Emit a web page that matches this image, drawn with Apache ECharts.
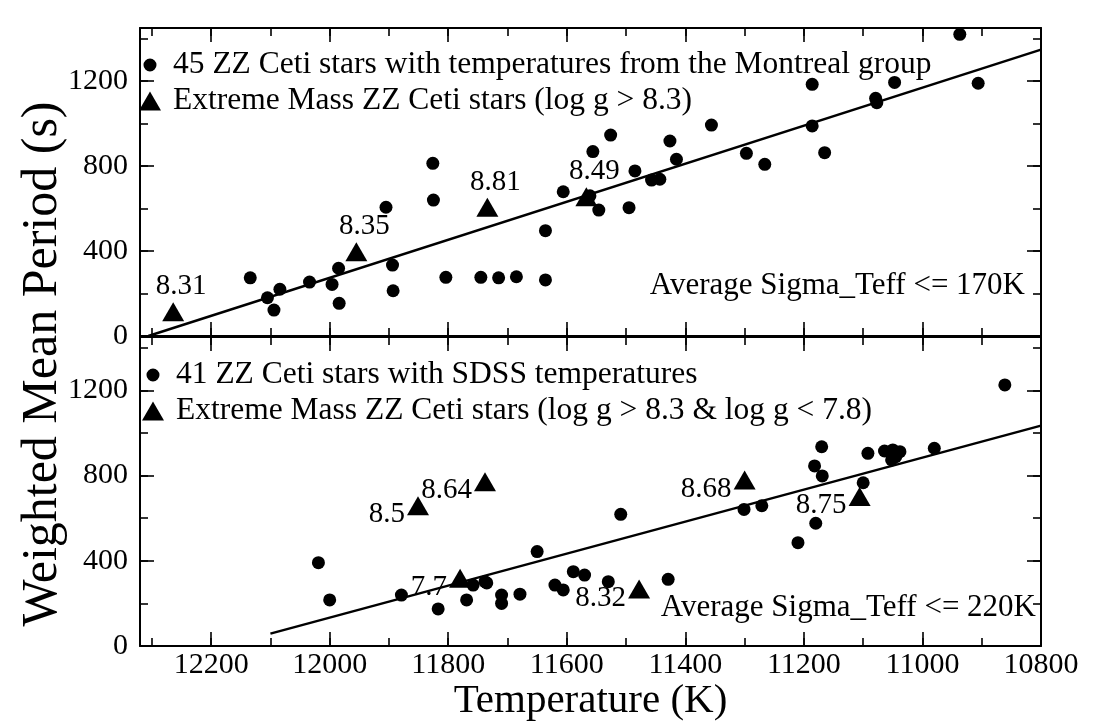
<!DOCTYPE html>
<html><head><meta charset="utf-8">
<script src="https://cdn.jsdelivr.net/npm/echarts@6.0.0/dist/echarts.min.js"></script>
<style>html,body{margin:0;padding:0;background:#fff}#c{width:1099px;height:728px}</style>
</head><body><div id="c"></div>
<script>
// ---------- data ----------
const xTickLabels = [12200, 12000, 11800, 11600, 11400, 11200, 11000, 10800];
const yTickLabels = [0, 400, 800, 1200];

// top panel: Montreal group temperatures
const topCircleT = [12134,12105,12084,12094,12034,11996,11985,11984,11905,11894,11893,11826,11825,11804,11745,11715,11685,11636,11636,11606,11556,11546,11561,11526,11495,11485,11457,11443,11426,11415,11356,11297,11266,11186,11186,11165,11079,11077,11047,10937,10906];
const topCircleP = [274,180,220,122,254,243,319,154,606,334,213,813,640,276,276,274,279,496,264,679,868,593,660,946,604,777,734,738,918,832,993,860,808,1185,989,863,1119,1098,1194,1420,1190];
const topTriT = [12264, 11955, 11734, 11567];
const topTriP = [114, 397, 606, 656];
const topTriLabel = ['8.31', '8.35', '8.81', '8.49'];
const topFitT = [12306, 10800];
const topFitP = [0, 1348];

// bottom panel: SDSS temperatures
const botCircleT = [12019,12000,11879,11817,11769,11758,11738,11735,11710,11710,11679,11650,11620,11606,11589,11570,11530,11509,11429,11301,11271,11210,11180,11182,11170,11169,11100,11092,11064,11050,11038,11052,11045,10980,10861];
const botCircleP = [391,216,239,174,216,286,302,296,239,200,243,443,286,263,349,333,302,618,313,641,658,485,576,845,935,798,766,904,915,920,912,873,888,928,1225];
const botTriT = [11851, 11738, 11780, 11478, 11300, 11106];
const botTriP = [658, 771, 318, 267, 779, 701];
const botTriLabel = ['8.5', '8.64', '7.7', '8.32', '8.68', '8.75'];
const botFitT = [12100, 10800];
const botFitP = [58, 1034];

const topCircleName = '45 ZZ Ceti stars with temperatures from the Montreal group';
const topTriName = 'Extreme Mass ZZ Ceti stars (log g > 8.3)';
const botCircleName = '41 ZZ Ceti stars with SDSS temperatures';
const botTriName = 'Extreme Mass ZZ Ceti stars (log g > 8.3 & log g < 7.8)';

// ---------- chart ----------
const FONT = '"Liberation Serif", "DejaVu Serif", serif';
const X_MIN = 10800, X_MAX = 12320, Y_MIN = 0, Y_MAX = 1450;
const zip = (a, b) => a.map((v, i) => [v, b[i]]);
const zip3 = (a, b, c) => a.map((v, i) => ({ value: [v, b[i]], label: { formatter: c[i] } }));

function xAx(grid, pos, major, labels) {
  return {
    type: 'value', gridIndex: grid, position: pos, inverse: true,
    min: X_MIN, max: X_MAX, interval: major ? 200 : 100,
    axisLine: { show: major, onZero: false, lineStyle: { color: '#000', width: 2 } },
    axisTick: { show: true, inside: true, length: major ? 14 : 8, lineStyle: { color: '#000', width: 1.6 } },
    axisLabel: { show: labels, margin: 4, color: '#000', fontFamily: FONT, fontSize: 30,
      formatter: v => (xTickLabels.indexOf(v) >= 0 ? String(v) : '') },
    splitLine: { show: false },
    name: (labels && major) ? 'Temperature (K)' : '',
    nameLocation: 'middle', nameGap: 55,
    nameTextStyle: { fontFamily: FONT, fontSize: 41, color: '#000', verticalAlign: 'middle' }
  };
}
function yAx(grid, pos, major, labels) {
  return {
    type: 'value', gridIndex: grid, position: pos,
    min: Y_MIN, max: Y_MAX, interval: major ? 400 : 200,
    axisLine: { show: major, onZero: false, lineStyle: { color: '#000', width: 2 } },
    axisTick: { show: true, inside: true, length: major ? 14 : 8, lineStyle: { color: '#000', width: 1.6 } },
    axisLabel: { show: labels, margin: 12, color: '#000', fontFamily: FONT, fontSize: 30,
      formatter: v => (yTickLabels.indexOf(v) >= 0 ? String(v) : '') },
    splitLine: { show: false }
  };
}

const xAxes = [], yAxes = [];
[0, 1].forEach(g => {
  xAxes.push(xAx(g, 'bottom', true, g === 1), xAx(g, 'top', true, false), xAx(g, 'bottom', false, false), xAx(g, 'top', false, false));
  yAxes.push(yAx(g, 'left', true, true), yAx(g, 'right', true, false), yAx(g, 'left', false, false), yAx(g, 'right', false, false));
});

const CIRCLE_ICON = 'path://M0,0M19,19M9.5,3A6.5,6.5,0,1,1,9.49,3Z';
const TRI_ICON = 'path://M11,0L22,19L0,19Z';

const markStyle = { color: '#000', opacity: 1 };
const triLabelTop = { show: true, position: 'top', distance: 1, offset: [8, 0], color: '#000', opacity: 1, fontFamily: FONT, fontSize: 29 };
const triLabelLeft = { show: true, position: 'left', distance: 2, offset: [0, 9], color: '#000', opacity: 1, fontFamily: FONT, fontSize: 29 };
const legendText = { fontFamily: FONT, fontSize: 31.5, color: '#000' };

const option = {
  backgroundColor: '#fff',
  animation: false,
  grid: [
    { left: 140, right: 58, top: 28, height: 308 },
    { left: 140, right: 58, top: 337, height: 309 }
  ],
  xAxis: xAxes,
  yAxis: yAxes,
  legend: [
    { data: [{ name: topCircleName, icon: CIRCLE_ICON }, { name: topTriName, icon: TRI_ICON }],
      orient: 'vertical', left: 139, top: 49, padding: 0, itemWidth: 36, itemHeight: 19, itemGap: 4,
      selectedMode: false, textStyle: legendText },
    { data: [{ name: botCircleName, icon: CIRCLE_ICON }, { name: botTriName, icon: TRI_ICON }],
      orient: 'vertical', left: 142, top: 359, padding: 0, itemWidth: 36, itemHeight: 19, itemGap: 4,
      selectedMode: false, textStyle: legendText }
  ],
  graphic: [
    { type: 'text', x: 1025, y: 286, style: { text: 'Average Sigma_Teff <= 170K', font: '31px ' + FONT, fill: '#000', align: 'right', verticalAlign: 'middle' } },
    { type: 'text', x: 1036, y: 608, style: { text: 'Average Sigma_Teff <= 220K', font: '31px ' + FONT, fill: '#000', align: 'right', verticalAlign: 'middle' } },
    { type: 'text', x: 43, y: 364, rotation: Math.PI / 2, style: { text: 'Weighted Mean Period (s)', font: '50px ' + FONT, fill: '#000', align: 'center', verticalAlign: 'middle' } }
  ],
  series: [
    { name: 'topFit', type: 'line', xAxisIndex: 0, yAxisIndex: 0, data: zip(topFitT, topFitP), symbol: 'none',
      lineStyle: { color: '#000', width: 2.5 }, z: 1, silent: true },
    { name: topCircleName, type: 'scatter', xAxisIndex: 0, yAxisIndex: 0, data: zip(topCircleT, topCircleP),
      symbol: 'circle', symbolSize: 13, itemStyle: markStyle, z: 3 },
    { name: topTriName, type: 'scatter', xAxisIndex: 0, yAxisIndex: 0, data: zip3(topTriT, topTriP, topTriLabel),
      symbol: 'triangle', symbolSize: [22, 19], itemStyle: markStyle, label: triLabelTop, z: 3 },
    { name: 'botFit', type: 'line', xAxisIndex: 4, yAxisIndex: 4, data: zip(botFitT, botFitP), symbol: 'none',
      lineStyle: { color: '#000', width: 2.5 }, z: 1, silent: true },
    { name: botCircleName, type: 'scatter', xAxisIndex: 4, yAxisIndex: 4, data: zip(botCircleT, botCircleP),
      symbol: 'circle', symbolSize: 13, itemStyle: markStyle, z: 3 },
    { name: botTriName, type: 'scatter', xAxisIndex: 4, yAxisIndex: 4, data: zip3(botTriT, botTriP, botTriLabel),
      symbol: 'triangle', symbolSize: [22, 19], itemStyle: markStyle, label: triLabelLeft, z: 3 }
  ]
};

const chart = echarts.init(document.getElementById('c'), null, { renderer: 'canvas' });
chart.setOption(option);
</script></body></html>
